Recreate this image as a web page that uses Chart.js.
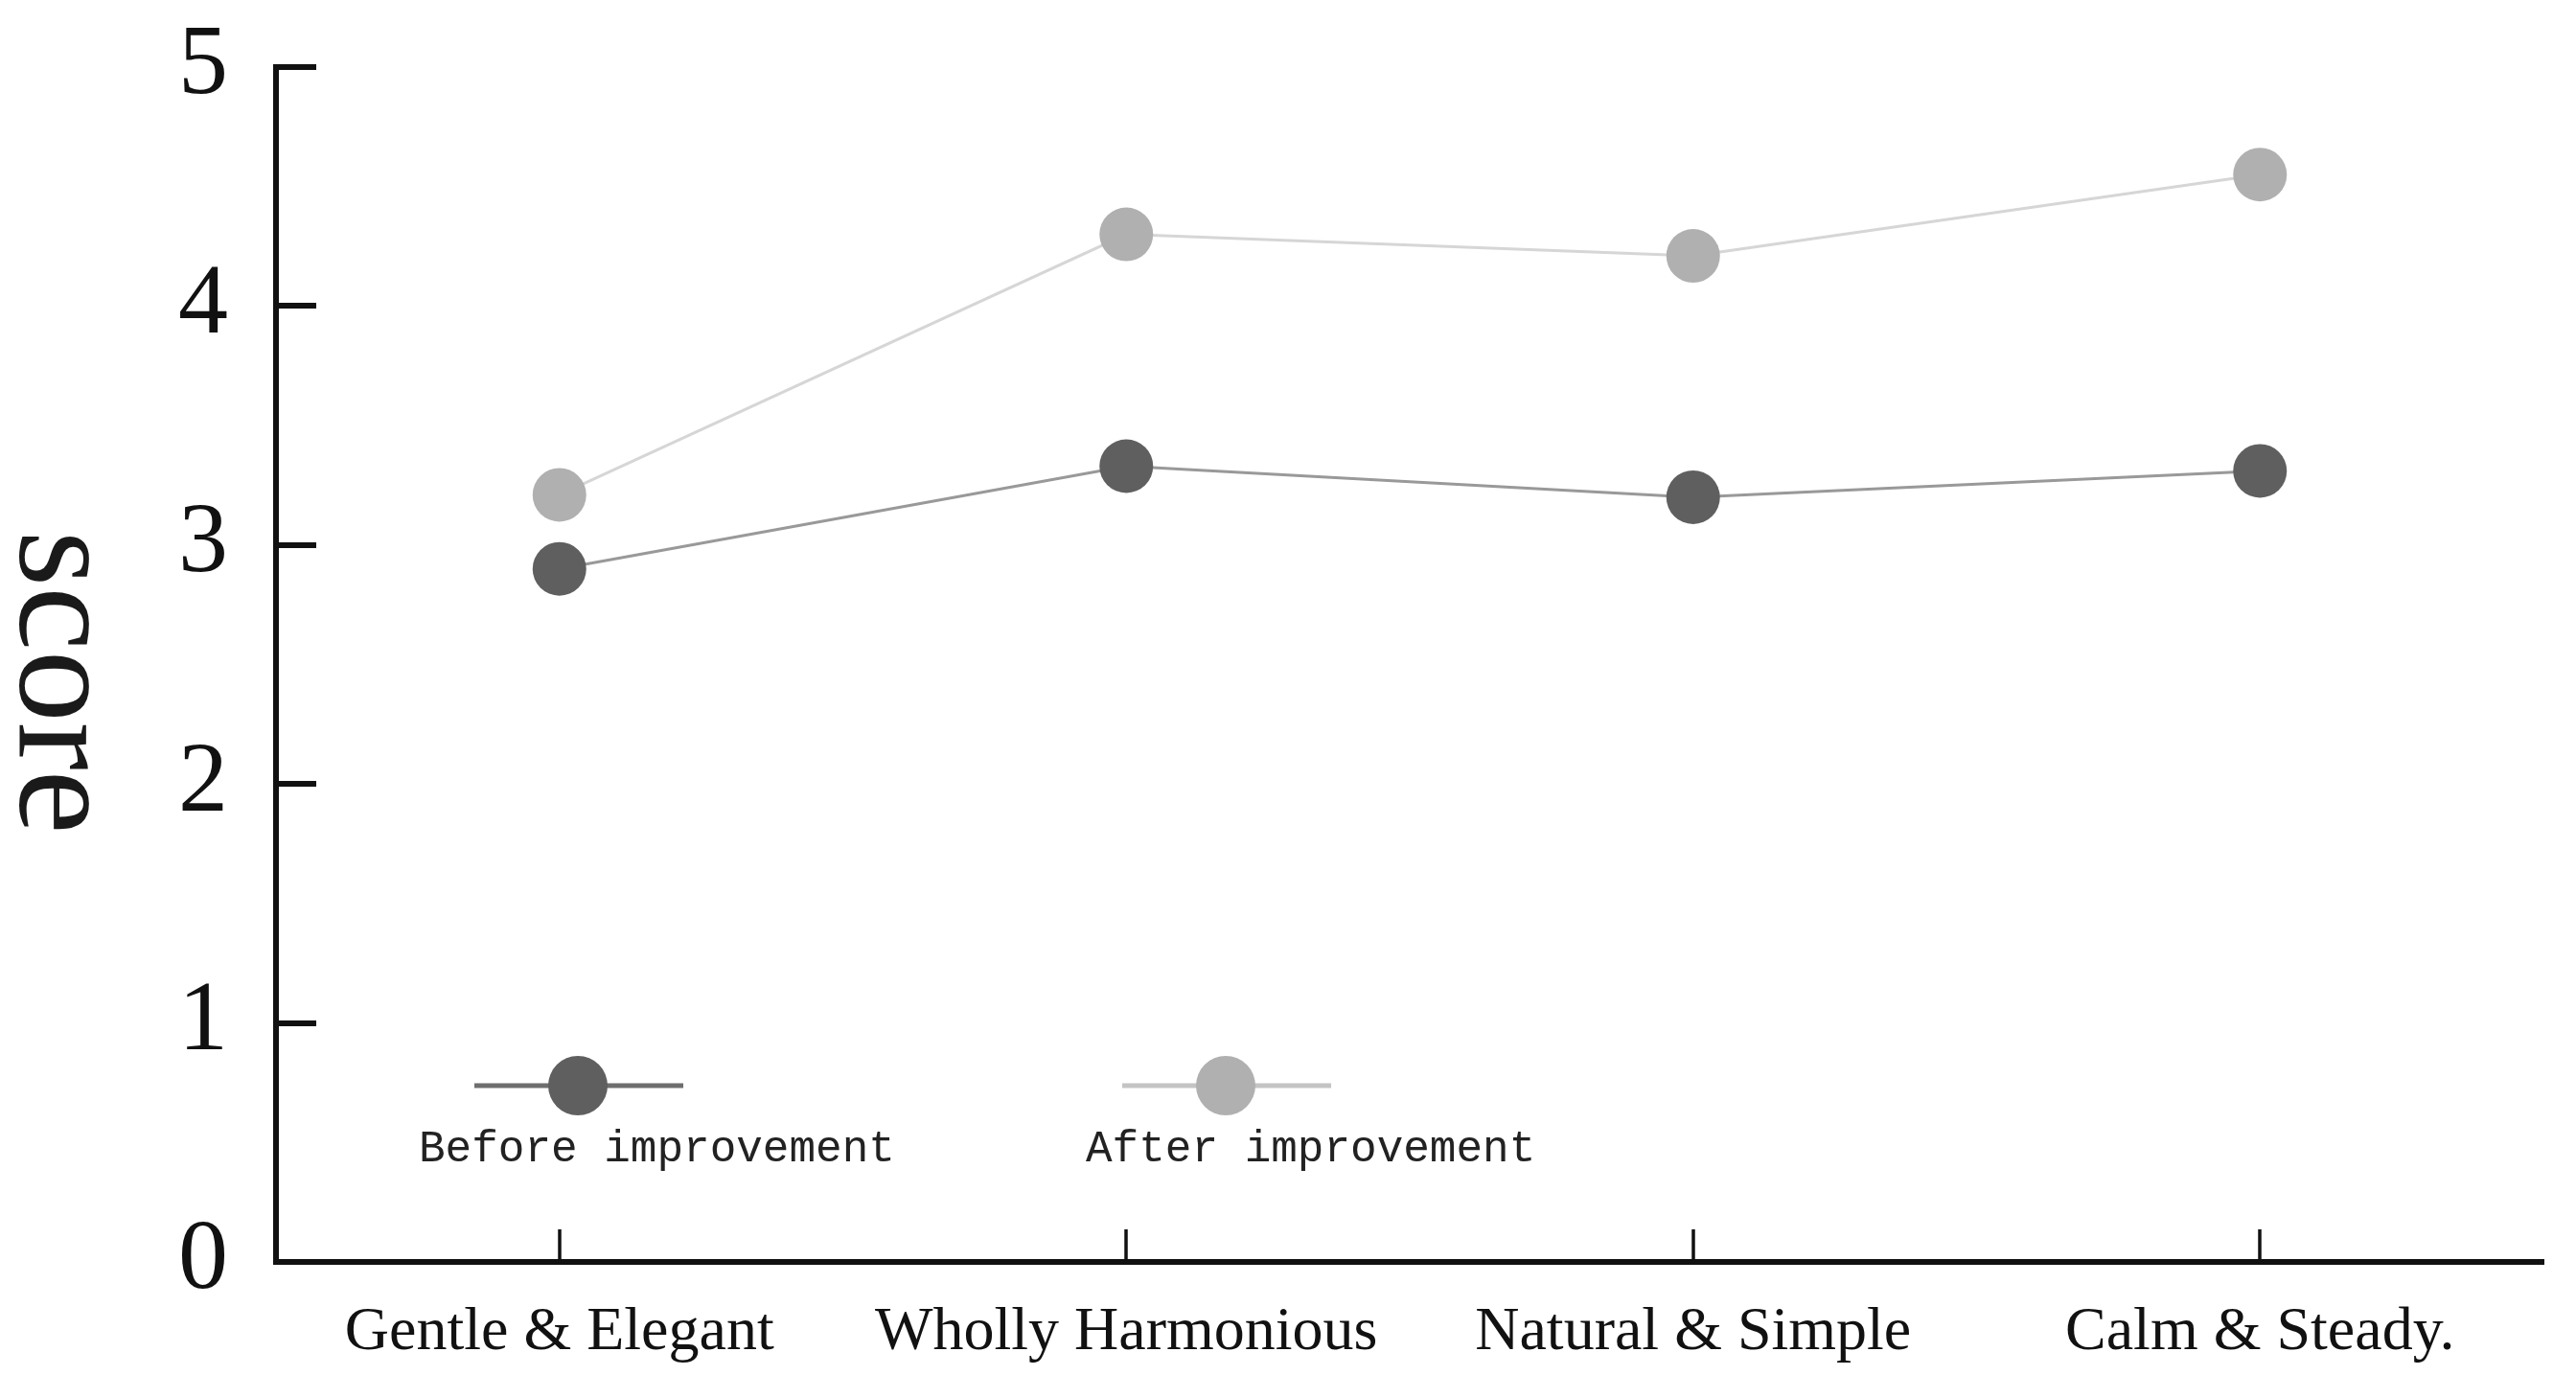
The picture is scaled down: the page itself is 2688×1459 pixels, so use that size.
<!DOCTYPE html>
<html>
<head>
<meta charset="utf-8">
<script src="https://cdn.jsdelivr.net/npm/chart.js@4.4.1/dist/chart.umd.min.js"></script>
<style>
  html, body { margin: 0; padding: 0; background: #fff; }
  canvas { display: block; }
</style>
</head>
<body>
<canvas id="scoreChart" width="2688" height="1459"></canvas>
<script>
// Chart data
const categories = ['Gentle & Elegant', 'Wholly Harmonious', 'Natural & Simple', 'Calm & Steady.'];
const beforeScores = [2.90, 3.33, 3.20, 3.31];
const afterScores = [3.21, 4.30, 4.21, 4.55];
const seriesNames = ['Before improvement', 'After improvement'];
const yTicks = [0, 1, 2, 3, 4, 5];
const yTitle = 'score';

// inward tick marks on both axes
const innerTicks = {
  id: 'innerTicks',
  afterDraw(chart) {
    const ctx = chart.ctx;
    const x = chart.scales.x, y = chart.scales.y;
    ctx.save();
    ctx.strokeStyle = '#111';
    ctx.lineWidth = 6;
    y.ticks.forEach((t, i) => {
      const py = Math.round(y.getPixelForTick(i));
      ctx.beginPath();
      ctx.moveTo(x.left, py);
      ctx.lineTo(x.left + 42, py);
      ctx.stroke();
    });
    ctx.lineWidth = 3.5;
    x.ticks.forEach((t, i) => {
      const px = Math.round(x.getPixelForTick(i));
      ctx.beginPath();
      ctx.moveTo(px, y.bottom);
      ctx.lineTo(px, y.bottom - 34);
      ctx.stroke();
    });
    ctx.restore();
  }
};

// y title, turned clockwise like the original
const sideTitle = {
  id: 'sideTitle',
  afterDraw(chart) {
    const ctx = chart.ctx;
    ctx.save();
    ctx.translate(60, 712);
    ctx.rotate(Math.PI / 2);
    ctx.font = '150px "Liberation Serif", serif';
    ctx.fillStyle = '#1a1a1a';
    ctx.textAlign = 'center';
    ctx.textBaseline = 'middle';
    ctx.fillText(yTitle, 0, 0);
    ctx.restore();
  }
};

// legend drawn inside the plot, label under each marker
const innerLegend = {
  id: 'innerLegend',
  afterDraw(chart) {
    const ctx = chart.ctx;
    const spots = [
      { line: [495, 713], mark: 603, text: 437, lineColor: '#6e6e6e' },
      { line: [1171, 1389], mark: 1279, text: 1133, lineColor: '#c4c4c4' }
    ];
    ctx.save();
    chart.data.datasets.forEach((ds, i) => {
      const s = spots[i];
      ctx.strokeStyle = s.lineColor;
      ctx.lineWidth = 5;
      ctx.beginPath();
      ctx.moveTo(s.line[0], 1133);
      ctx.lineTo(s.line[1], 1133);
      ctx.stroke();
      ctx.fillStyle = ds.pointBackgroundColor;
      ctx.beginPath();
      ctx.arc(s.mark, 1133, 31, 0, Math.PI * 2);
      ctx.fill();
      ctx.fillStyle = '#222';
      ctx.font = '46px "Liberation Mono", monospace';
      ctx.textAlign = 'left';
      ctx.textBaseline = 'middle';
      ctx.fillText(ds.label, s.text, 1200);
    });
    ctx.restore();
  }
};

const ctx = document.getElementById('scoreChart').getContext('2d');
new Chart(ctx, {
  type: 'line',
  data: {
    labels: categories,
    datasets: [
      {
        label: seriesNames[0],
        data: beforeScores,
        borderColor: '#999999',
        borderWidth: 3,
        pointBackgroundColor: '#5f5f5f',
        pointBorderColor: '#5f5f5f',
        pointRadius: 28,
        pointBorderWidth: 0
      },
      {
        label: seriesNames[1],
        data: afterScores,
        borderColor: '#d6d6d6',
        borderWidth: 3,
        pointBackgroundColor: '#b0b0b0',
        pointBorderColor: '#b0b0b0',
        pointRadius: 28,
        pointBorderWidth: 0
      }
    ]
  },
  options: {
    responsive: false,
    animation: false,
    devicePixelRatio: 1,
    layout: { padding: { top: 70, right: 34, left: 0, bottom: 0 } },
    plugins: {
      legend: { display: false },
      tooltip: { enabled: false }
    },
    scales: {
      x: {
        offset: true,
        grid: { display: false, drawTicks: false },
        border: { display: true, color: '#111', width: 6 },
        ticks: {
          color: '#111',
          padding: 36,
          maxRotation: 0,
          font: { family: '"Liberation Serif", serif', size: 64 }
        },
        afterFit(scale) {
          scale.height = 142;
          scale.paddingLeft = 0;
          scale.paddingRight = 0;
        }
      },
      y: {
        min: 0,
        max: 5,
        afterBuildTicks(scale) { scale.ticks = yTicks.map(v => ({ value: v })); },
        grid: { display: false, drawTicks: false },
        border: { display: true, color: '#111', width: 6 },
        ticks: {
          color: '#111',
          padding: 50,
          font: { family: '"Liberation Serif", serif', size: 104 }
        },
        afterFit(scale) {
          scale.width = 288;
          scale.paddingTop = 0;
          scale.paddingBottom = 0;
        }
      }
    }
  },
  plugins: [innerTicks, sideTitle, innerLegend]
});
</script>
</body>
</html>
